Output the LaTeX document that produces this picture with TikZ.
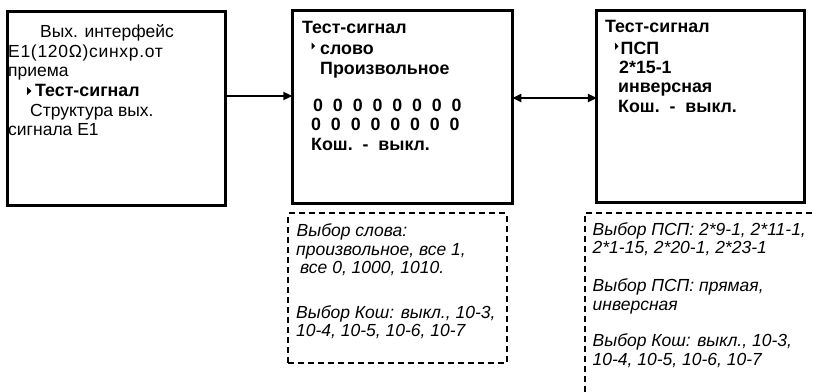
\documentclass[tikz,border=0pt]{standalone}
\usepackage{fontspec}
\setmainfont{Liberation Sans}
\usetikzlibrary{arrows.meta}
\begin{document}
\begin{tikzpicture}[x=1pt,y=-1pt,
  screen/.style={draw,line width=3pt,inner sep=0pt,outer sep=0pt},
  note/.style={draw,line width=2pt,dash pattern=on 6pt off 4pt,inner sep=0pt,outer sep=0pt},
  txt/.style={anchor=base west,inner sep=0pt,font=\fontsize{17.5}{20}\selectfont},
  btxt/.style={txt,font=\fontsize{17.8}{20}\selectfont\bfseries},
  itxt/.style={txt,font=\fontsize{17.5}{20}\selectfont\itshape},
  link/.style={line width=2pt,-{Triangle[length=9pt,width=8pt]}},
  dlink/.style={line width=2pt,{Triangle[length=9pt,width=8pt]}-{Triangle[length=9pt,width=8pt]}},
  marker/.style={fill=black}]
\useasboundingbox (0,0) rectangle (814,391);
\clip (0,0) rectangle (814,391);

% screen frames
\node[screen,minimum width=218pt,minimum height=194pt] (b1) at (116,108) {};
\node[screen,minimum width=220pt,minimum height=193pt] (b2) at (402.3,106.7) {};
\node[screen,minimum width=207.7pt,minimum height=192pt] (b3) at (700.8,106) {};

% option notes under the screens
\node[note,minimum width=218.4pt,minimum height=150pt] (n1) at (397.5,288.3) {};
\node[note,minimum width=245pt,minimum height=207pt] (n2) at (707.5,316) {};

% connectors
\coordinate (r1) at (0,96);
\coordinate (r2) at (0,98);
\draw[link] (b1.east |- r1) -- (b2.west |- r1);
\draw[dlink] (b2.east |- r2) -- (b3.west |- r2);

% screen 1
\node[txt] (t11) at (40,37) {Вых. интерфейс};
\node[txt] (t12) at (8,57) {\addfontfeature{LetterSpace=4}E1(120Ω)синхр.от};
\node[txt] (t13) at (8,76) {приема};
\fill[marker] (27,87) -- (31.5,91) -- (27,95) -- cycle;
\node[btxt] (t14) at (35,96.5) {Тест-сигнал};
\node[txt] (t15) at (30,116) {Структура вых.};
\node[txt] (t16) at (8,135) {сигнала E1};

% screen 2
\node[btxt] (t21) at (302,33) {Тест-сигнал};
\fill[marker] (311.7,42.7) -- (315.2,46) -- (311.7,49.3) -- cycle;
\node[btxt] (t22) at (320,54) {слово};
\node[btxt] (t23) at (320,74) {Произвольное};
\node[btxt] (t24) at (313,111.7) {0\ \ 0\ \ 0\ \ 0\ \ 0\ \ 0\ \ 0\ \ 0};
\node[btxt] (t25) at (311,130.7) {0\ \ 0\ \ 0\ \ 0\ \ 0\ \ 0\ \ 0\ \ 0};
\node[btxt] (t26) at (311,150.7) {Кош.\ \ -\ \ выкл.};

% screen 3
\node[btxt] (t31) at (605,32) {Тест-сигнал};
\fill[marker] (615,42.7) -- (618.5,46.3) -- (615,50) -- cycle;
\node[btxt] (t32) at (620.5,54) {ПСП};
\node[btxt] (t33) at (619,73) {2*15-1};
\node[btxt] (t34) at (618,92) {инверсная};
\node[btxt] (t35) at (618,112) {Кош.\ \ -\ \ выкл.};

% note 1
\node[itxt] (u11) at (296.5,236.7) {Выбор слова:};
\node[itxt] (u12) at (296,255) {произвольное, все 1,};
\node[itxt] (u13) at (300,273) {все 0, 1000, 1010.};
\node[itxt] (u14) at (296,318) {Выбор Кош: выкл., 10-3,};
\node[itxt] (u15) at (296,336.7) {10-4, 10-5, 10-6, 10-7};

% note 2
\node[itxt] (u21) at (592.5,235) {Выбор ПСП: 2*9-1, 2*11-1,};
\node[itxt] (u22) at (592.5,253.3) {2*1-15, 2*20-1, 2*23-1};
\node[itxt] (u23) at (592.5,291.7) {Выбор ПСП: прямая,};
\node[itxt] (u24) at (592.5,310) {инверсная};
\node[itxt] (u25) at (592.5,346.7) {Выбор Кош: выкл., 10-3,};
\node[itxt] (u26) at (592.5,365) {10-4, 10-5, 10-6, 10-7};
\end{tikzpicture}
\end{document}
